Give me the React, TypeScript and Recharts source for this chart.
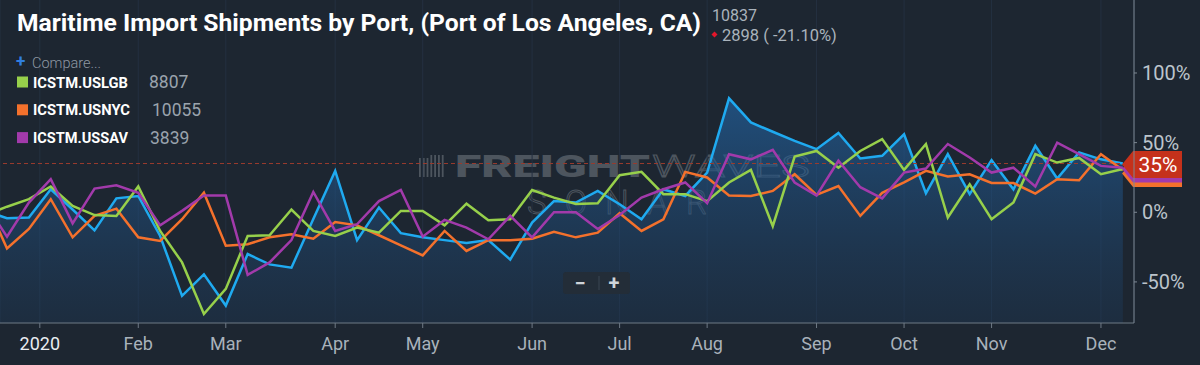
import React from 'react'
import { ComposedChart, Area, Line, XAxis, YAxis, CartesianGrid, ReferenceLine } from 'recharts'

// weekly % change, Port of Los Angeles (main series) and compared ports
const laxValues = [
  1, -4.3, -3.8, 16.5, 2, -13, 10, 11.7, -17, -60, -44.6, -67, -30, -37.4, -39.8, -4.8, 29.7, -20,
  3.4, -15, -18, -20, -22, -20, -34, -7.4, 8, 7, 15.3, 5.8, -5, 16.5, 11.7, 28.5, 81.8, 64.5, 57.8,
  51.3, 45.3, 57, 38.6, 40.5, 56, 13.7, 41.7, 13, 37.4, 16.5, 47.7, 24.2, 43, 38, 35,
]
const lgbValues = [
  -2, 4, 9.4, 18.5, 4.5, -2, -2.6, 18.5, -13.4, -36, -73, -55, -17, -16.5, 2, -13.4, -17, -11,
  -14.6, 1, 1, -9.4, 6.2, -5.8, -5, 16, 10.5, 6, 6.5, 26.6, 29, 13, 13, 8, 21.4, 30.4, -10, 40, 44,
  32, 44, 52.5, 30.4, 49, -3.8, 20, -5, 7, 41.7, 35.7, 39, 27.3, 31,
]
const nycValues = [
  9, -26, -12, 9.4, -18, -2.6, 2.6, -18, -20.6, -5, 14, -24, -23, -18, -15.8, -19, -7, -9.4, -16.5,
  -23.7, -31, -13.4, -27.8, -20, -20, -19, -14, -18, -14.6, -0.7, -13.4, -5, 29, 25, 12, 11.7, 15.3,
  27.3, 12.5, 18.8, -2.6, 14, 21.4, 29.7, 25.7, 27.3, 21, 21, 13.4, 23.7, 23, 41.7, 30.4,
]
const savValues = [
  6.5, -17.5, 7, 23.7, -8, 17, 19.4, 14, -9.4, 1, 12, 12, -45, -36, -20, 14.6, -13.4, -8.6, 8, 16,
  -17.5, -5.5, -11, -19.4, -2.6, -18, 0, 0, -12, -2, 10.5, 16.5, 21.4, 6.5, 41.7, 38, 44.8, 21.4, 12,
  37, 18, 10, 28.5, 31.4, 49, 39.3, 28.5, 32, 18.5, 50, 41.7, 33.3, 32,
]

const monthTicks = [2.5, 7, 11, 16, 20, 25, 29, 33, 38, 42, 46, 51]
const monthLabels = ['2020', 'Feb', 'Mar', 'Apr', 'May', 'Jun', 'Jul', 'Aug', 'Sep', 'Oct', 'Nov', 'Dec']
const pctTicks = [-50, 0, 50, 100]
const lastValue = 35

const legendNames = ['ICSTM.USLGB', 'ICSTM.USNYC', 'ICSTM.USSAV']
const legendValues = ['8807', '10055', '3839']

const BLUE = '#1faaf0'
const GREEN = '#97d04b'
const ORANGE = '#f4712c'
const PURPLE = '#a23aab'
const legendColors = [GREEN, ORANGE, PURPLE]
const FONT = 'Roboto, sans-serif'

const data = laxValues.map((v, i) => ({
  i,
  lax: v,
  lgb: lgbValues[i],
  nyc: nycValues[i],
  sav: savValues[i],
}))

function MonthTick(props: any) {
  const { x, y, payload } = props
  const idx = monthTicks.indexOf(payload.value)
  const label = monthLabels[idx] ?? ''
  return (
    <text
      x={x}
      y={y}
      dy="0.71em"
      textAnchor="middle"
      fontFamily={FONT}
      fontSize={18}
      fill={idx === 0 ? '#e9edf1' : '#a9b2bb'}
    >
      {label}
    </text>
  )
}

function tagPath(tipX: number, y: number) {
  return `M ${tipX} ${y} L ${tipX + 11} ${y - 13.5} L ${tipX + 60} ${y - 13.5} L ${tipX + 60} ${y + 13.5} L ${tipX + 11} ${y + 13.5} Z`
}

function LastValueTag(props: any) {
  const vb = props.viewBox
  if (!vb) return null
  const tipX = vb.x + vb.width - 12
  const y = vb.y + 1
  return (
    <g>
      <path d={tagPath(tipX, y + 9)} fill={ORANGE} />
      <path d={tagPath(tipX, y + 4.5)} fill={PURPLE} />
      <path d={tagPath(tipX, y)} fill="#c5311b" />
      <text x={tipX + 36} y={y + 7.5} textAnchor="middle" fontFamily={FONT} fontSize={21} fill="#ffffff">
        {lastValue}%
      </text>
    </g>
  )
}

function Watermark() {
  const bars = [0, 1, 2, 3, 4, 5, 6]
  return (
    <svg width={1200} height={365} style={{ position: 'absolute', left: 0, top: 0 }}>
      <g opacity={0.8}>
        {bars.map((b) => (
          <rect key={b} x={419 + b * 3.8} y={155 + (b < 3 ? 3 : 0)} width={1.8} height={b < 3 ? 19 : 22} fill="#59616a" />
        ))}
        <text x={455} y={177} fontFamily={FONT} fontWeight={900} fontSize={31} fill="#59616a" textLength={195} lengthAdjust="spacingAndGlyphs">
          FREIGHT
        </text>
        <text x={652} y={177} fontFamily={FONT} fontWeight={300} fontSize={31} fill="none" stroke="#59616a" strokeWidth={1} textLength={158} lengthAdjust="spacingAndGlyphs">
          WAVES
        </text>
        <text x={527} y={214} fontFamily={FONT} fontWeight={300} fontSize={33} fill="none" stroke="#59616a" strokeWidth={1} textLength={180} lengthAdjust="spacing">
          SONAR
        </text>
      </g>
    </svg>
  )
}

function Header() {
  return (
    <svg width={1200} height={365} style={{ position: 'absolute', left: 0, top: 0, pointerEvents: 'none' }}>
      <text x={17} y={31} fontFamily={FONT} fontWeight={700} fontSize={24} fill="#ffffff" textLength={684} lengthAdjust="spacingAndGlyphs">
        Maritime Import Shipments by Port, (Port of Los Angeles, CA)
      </text>
      <text x={712} y={21} fontFamily={FONT} fontSize={16} fill="#aab3bc">
        10837
      </text>
      <path d="M 714.5 31.5 L 717.5 34.5 L 714.5 37.5 L 711.5 34.5 Z" fill="#e3162b" />
      <text x={722} y={41} fontFamily={FONT} fontSize={16.5} fill="#aab3bc">
        2898 ( -21.10%)
      </text>

      <text x={16} y={67} fontFamily={FONT} fontWeight={700} fontSize={17} fill="#2f7fe0">
        +
      </text>
      <text x={32} y={68} fontFamily={FONT} fontWeight={300} fontSize={14.5} fill="#8e98a3">
        Compare...
      </text>
      {legendNames.map((name, k) => {
        const base = 87.5 + k * 27.8
        return (
          <g key={name}>
            <rect x={17} y={base - 11} width={11} height={11} fill={legendColors[k]} />
            <text x={33} y={base} fontFamily={FONT} fontWeight={700} fontSize={15} fill="#ffffff" textLength={k === 1 ? 97 : 95} lengthAdjust="spacingAndGlyphs">
              {name}
            </text>
            <text x={[149, 152, 150][k]} y={base + 0.5} fontFamily={FONT} fontSize={17.5} fill="#9aa3ad">
              {legendValues[k]}
            </text>
          </g>
        )
      })}

      <rect x={563} y={272} width={67} height={22} rx={3} fill="#232d38" />
      <line x1={599} y1={276} x2={599} y2={290} stroke="#3a4652" />
      <text x={580} y={290} textAnchor="middle" fontFamily={FONT} fontWeight={700} fontSize={20} fill="#cfd4d9">
        −
      </text>
      <text x={614} y={290} textAnchor="middle" fontFamily={FONT} fontWeight={700} fontSize={20} fill="#cfd4d9">
        +
      </text>
    </svg>
  )
}

export default function App() {
  return (
    <div style={{ position: 'absolute', left: 0, top: 0, width: 1200, height: 365, background: '#1d2631', overflow: 'hidden' }}>
      <Watermark />
      <div style={{ position: 'absolute', left: 0, top: 0 }}>
        <ComposedChart width={1200} height={365} data={data} margin={{ top: 0, right: 0, bottom: 0, left: 0 }}>
          <defs>
            <linearGradient id="laxFill" x1="0" y1="0" x2="0" y2="1">
              <stop offset="0%" stopColor="#2368ab" stopOpacity={0.62} />
              <stop offset="100%" stopColor="#1d3c5e" stopOpacity={0.32} />
            </linearGradient>
          </defs>
          <CartesianGrid stroke="#243040" horizontal={false} />
          <XAxis
            dataKey="i"
            type="number"
            domain={[0.68, 52.51]}
            allowDataOverflow
            ticks={monthTicks}
            interval={0}
            height={42}
            tickSize={5}
            tickMargin={9}
            stroke="#6f7a86"
            tick={MonthTick}
          />
          <YAxis
            orientation="right"
            width={66}
            domain={[-79.5, 152.4]}
            allowDataOverflow
            ticks={pctTicks}
            interval={0}
            tickSize={3}
            tickMargin={5}
            stroke="#7d8893"
            tickFormatter={(v: number) => `${v}%`}
            tick={{ fill: '#bcc4cc', fontSize: 20, fontFamily: FONT }}
          />
          <ReferenceLine y={lastValue} stroke="#9a3b2e" strokeDasharray="4 3" />
          <Area
            type="linear"
            dataKey="lax"
            stroke={BLUE}
            strokeWidth={2.5}
            fill="url(#laxFill)"
            fillOpacity={1}
            baseValue="dataMin"
            dot={false}
            activeDot={false}
            isAnimationActive={false}
          />
          <Line type="linear" dataKey="nyc" stroke={ORANGE} strokeWidth={2.5} dot={false} activeDot={false} isAnimationActive={false} />
          <Line type="linear" dataKey="lgb" stroke={GREEN} strokeWidth={2.5} dot={false} activeDot={false} isAnimationActive={false} />
          <Line type="linear" dataKey="sav" stroke={PURPLE} strokeWidth={2.5} dot={false} activeDot={false} isAnimationActive={false} />
          <ReferenceLine y={lastValue} stroke="none" label={LastValueTag} />
        </ComposedChart>
      </div>
      <Header />
    </div>
  )
}
